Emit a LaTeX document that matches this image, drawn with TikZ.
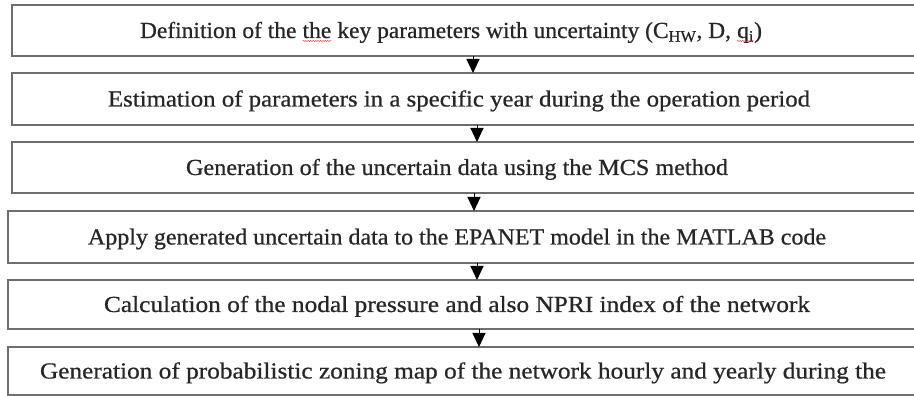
\documentclass[tikz,border=0pt]{standalone}
\usepackage{fontspec}
\setmainfont{Liberation Serif}
\newfontfamily\stepfont[FakeBold=0.6]{Liberation Serif}
\usepackage{graphicx}
\usetikzlibrary{arrows.meta,decorations.pathmorphing}

\definecolor{boxgray}{HTML}{6E6E6E}
\definecolor{txtgray}{HTML}{262626}

% stretch a line of text horizontally to a given width, keeping its height
\newcommand{\fitline}[2]{\resizebox{#1}{\height}{#2}}
% red wavy proofing mark under a word
\newcommand{\spellmark}[1]{\tikz[baseline=(w.base)]{\node[inner sep=0pt,outer sep=0pt] (w) {#1};
  \draw[red!85, line width=0.45pt, decorate, decoration={snake, amplitude=0.5pt, segment length=2.4pt}]
    ([yshift=-3pt]w.base west) -- ([yshift=-3pt]w.base east);}}

\begin{document}
\begin{tikzpicture}[x=1pt, y=1pt,
  box/.style={draw=boxgray, line width=1.9pt, fill=white, anchor=north west,
              inner sep=0pt, outer sep=0pt, minimum width=930pt},
  lbl/.style={text=txtgray, inner sep=0pt, anchor=base, font=\stepfont\fontsize{23}{27}\selectfont},
  arr/.style={line width=1pt, draw=black, -{Triangle[width=13pt,length=14pt]}}]
\useasboundingbox (0,0) rectangle (914,396);
\clip (0,0) rectangle (914,396);

% process boxes (they run past the right edge)
\node[box, minimum height=51pt] (b1) at (12,391) {};
\node[box, minimum height=52pt] (b2) at (12,323) {};
\node[box, minimum height=51pt] (b3) at (12,254) {};
\node[box, minimum height=52pt] (b4) at (8,185) {};
\node[box, minimum height=49pt] (b5) at (8,116) {};
\node[box, minimum height=48pt] (b6) at (8,49) {};

% step texts
\node[lbl] (t1) at (451,358) {\fitline{622pt}{Definition of the \spellmark{the} key parameters with uncertainty (C\textsubscript{HW}, D, \spellmark{q\textsubscript{i}})}};
\node[lbl] (t2) at (459,289.5) {\fitline{702pt}{Estimation of parameters in a specific year during the operation period}};
\node[lbl] (t3) at (457,221) {\fitline{542pt}{Generation of the uncertain data using the MCS method}};
\node[lbl] (t4) at (457,151.5) {\fitline{738pt}{Apply generated uncertain data to the EPANET model in the MATLAB code}};
\node[lbl] (t5) at (457,84) {\fitline{706pt}{Calculation of the nodal pressure and also NPRI index of the network}};
\node[lbl] (t6) at (463,17.5) {\fitline{846pt}{Generation of probabilistic zoning map of the network hourly and yearly during the}};

% connectors
\coordinate (x1) at (473,0);
\coordinate (x2) at (477,0);
\coordinate (x3) at (474,0);
\coordinate (x4) at (477,0);
\coordinate (x5) at (479,0);
\draw[arr] (x1 |- b1.south) -- (x1 |- b2.north);
\draw[arr] (x2 |- b2.south) -- (x2 |- b3.north);
\draw[arr] (x3 |- b3.south) -- (x3 |- b4.north);
\draw[arr] (x4 |- b4.south) -- (x4 |- b5.north);
\draw[arr] (x5 |- b5.south) -- (x5 |- b6.north);
\end{tikzpicture}
\end{document}
